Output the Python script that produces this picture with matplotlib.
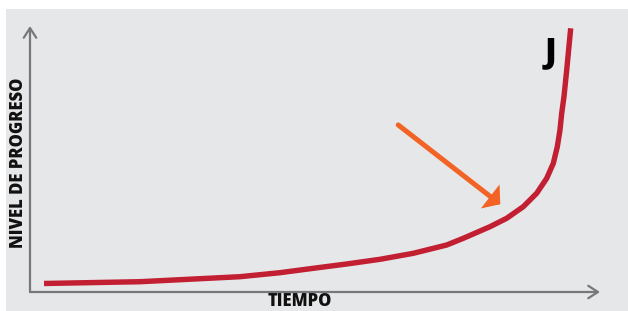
import matplotlib
matplotlib.use("Agg")
import matplotlib.pyplot as plt
from matplotlib.patches import Rectangle, FancyArrowPatch

# Data (time vs progress, both 0-100 scale)
tiempo = [2.46, 19.30, 36.84, 43.86, 49.70, 55.56, 61.40, 67.25, 73.11, 76.02,
          80.70, 83.63, 86.54, 88.89, 90.65, 91.81, 92.51, 92.98, 93.28, 93.68,
          94.16, 94.86]
progreso = [3.20, 3.87, 5.75, 7.26, 8.91, 10.53, 12.29, 14.55, 17.67, 20.19,
            24.55, 27.71, 32.07, 37.11, 42.74, 48.38, 54.62, 60.90, 67.18, 73.42,
            83.46, 99.14]
arrow_start = (64.6, 62.8)
arrow_end = (82.5, 33.0)
xlabel = "TIEMPO"
ylabel = "NIVEL DE PROGRESO"
curve_label = "J"

W, H = 628, 311
fig = plt.figure(figsize=(W / 100, H / 100), dpi=100)
fig.patch.set_facecolor("white")
fig.patches.append(Rectangle((6 / W, 0), (W - 6) / W, (H - 9) / H,
                             transform=fig.transFigure, facecolor="#e6e7e8",
                             edgecolor="none", zorder=-10))

left, right = 30, 600
top, bottom = 26, 292
ax = fig.add_axes([left / W, (H - bottom) / H, (right - left) / W, (bottom - top) / H])
ax.set_zorder(5)
ax.set_xlim(0, 100)
ax.set_ylim(0, 100)
ax.patch.set_visible(False)
for s in ax.spines.values():
    s.set_visible(False)
ax.set_xticks([])
ax.set_yticks([])

axis_color = "#77787b"
for end in [(1, 0), (0, 1)]:
    ax.annotate("", xy=end, xytext=(0, 0), xycoords="axes fraction",
                arrowprops=dict(arrowstyle="->,head_length=0.7,head_width=0.45",
                                color=axis_color, lw=1.6, shrinkA=0, shrinkB=0),
                annotation_clip=False)

ax.plot(tiempo, progreso, color="#c21f32", lw=3.9, solid_capstyle="butt",
        solid_joinstyle="round", clip_on=False, zorder=3)

arr = FancyArrowPatch(arrow_start, arrow_end,
                      arrowstyle="-|>,head_length=5,head_width=6",
                      color="#f26325", lw=3.6, shrinkA=0, shrinkB=0,
                      mutation_scale=1, zorder=4, joinstyle="miter")
ax.add_patch(arr)

font = "Open Sans"
ax.text(91.3, 90.0, curve_label, fontsize=24, fontweight=800, family=font,
        color="black", ha="center", va="center")

fig.text(300 / W, 1 - 302 / H, xlabel, fontsize=12, fontweight=800,
         family=font, ha="center", va="center", color="#111111")
fig.text(19 / W, 1 - 163 / H, ylabel, fontsize=12, fontweight=800,
         family=font, ha="center", va="center", rotation=90, color="#111111")

fig.savefig("out.png", dpi=100)
